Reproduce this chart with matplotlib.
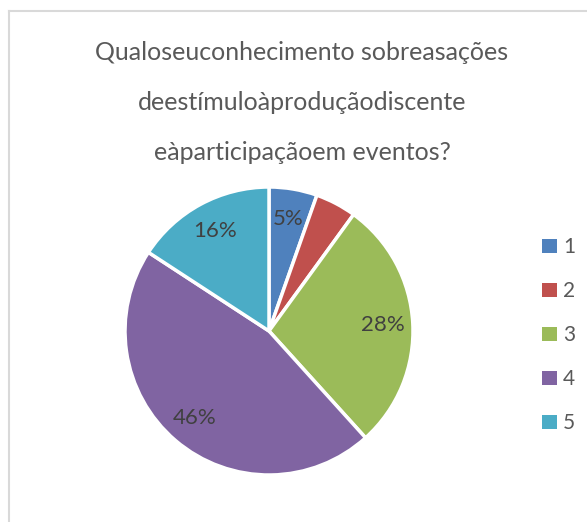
import matplotlib
matplotlib.use("Agg")
import matplotlib.pyplot as plt
from matplotlib.patches import Patch
from matplotlib.lines import Line2D

# Data
categories = ["1", "2", "3", "4", "5"]
values = [5.4, 4.6, 28.3, 45.9, 15.8]
pct_labels = ["5%", "", "28%", "46%", "16%"]
colors = ["#4F81BD", "#C0504D", "#9BBB59", "#8064A2", "#4BACC6"]
title_lines = ["Qualoseuconhecimento sobreasações",
               "deestímuloàproduçãodiscente",
               "eàparticipaçãoem eventos?"]

plt.rcParams['font.family'] = ['Lato', 'DejaVu Sans']

W, H = 587, 522
fig = plt.figure(figsize=(W / 100, H / 100), dpi=100)
fig.patch.set_facecolor("white")

# frame lines (top and left)
fig.add_artist(Line2D([8.5 / W, 1.0], [1 - 10.5 / H, 1 - 10.5 / H],
                      transform=fig.transFigure, color="#D9D9D9", lw=1.5))
fig.add_artist(Line2D([8.5 / W, 8.5 / W], [0, 1 - 10.5 / H],
                      transform=fig.transFigure, color="#D9D9D9", lw=1.5))

# title
title_y = [52, 103, 153]
for line, y in zip(title_lines, title_y):
    fig.text(302 / W, 1 - y / H, line, ha="center", va="center",
             fontsize=18, color="#595959")

# pie
cx, cy, r = 269, 331, 144
ax = fig.add_axes([(cx - r) / W, (H - cy - r) / H, 2 * r / W, 2 * r / H])
it = iter(pct_labels)
wedges, texts, autotexts = ax.pie(
    values, colors=colors, startangle=90, counterclock=False,
    autopct=lambda p: next(it), pctdistance=0.79,
    wedgeprops=dict(edgecolor="white", linewidth=2.5),
    textprops=dict(fontsize=16, color="#404040"))
ax.set_xlim(-1.0, 1.0)
ax.set_ylim(-1.0, 1.0)
ax.set_aspect("equal")
ax.axis("off")

# legend
handles = [Patch(facecolor=c, edgecolor="none") for c in colors]
leg = fig.legend(handles, categories, loc="upper left",
                 bbox_to_anchor=(532 / W, 1 - 227 / H),
                 frameon=False, fontsize=15, handlelength=0.68,
                 handleheight=0.68, handletextpad=0.3,
                 labelspacing=1.15, borderpad=0)
for t in leg.get_texts():
    t.set_color("#595959")

fig.savefig("out.png", dpi=100, facecolor="white")
